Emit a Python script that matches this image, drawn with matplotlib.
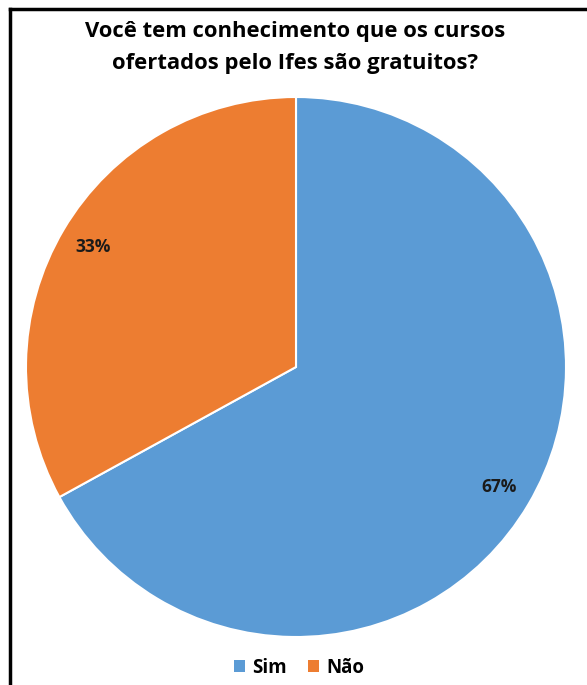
import matplotlib
matplotlib.use("Agg")
from matplotlib import pyplot as plt
from matplotlib.lines import Line2D
from matplotlib.patches import Patch

plt.rcParams['font.family'] = ['Open Sans', 'DejaVu Sans']

title = "Você tem conhecimento que os cursos\nofertados pelo Ifes são gratuitos?"
labels = ['Sim', 'Não']
values = [67, 33]
colors = ['#5B9BD5', '#ED7D31']

W, H = 587, 685
fig = plt.figure(figsize=(W / 100, H / 100), dpi=100)

# pie centre (296, 367) px, radius 270 px
cx, cy, r = 296, 367, 270
ax = fig.add_axes([(cx - r) / W, (H - cy - r) / H, 2 * r / W, 2 * r / H])
wedges, texts, autotexts = ax.pie(values, colors=colors, startangle=90, counterclock=False,
                                  autopct='%1.0f%%', pctdistance=0.875,
                                  wedgeprops=dict(edgecolor='white', linewidth=1.5),
                                  textprops=dict(fontsize=12.5, fontweight='bold', color='#1a1a1a'))
ax.set_xlim(-1, 1)
ax.set_ylim(-1, 1)
ax.set_aspect('auto')
ax.axis('off')

fig.text(295 / W, 1 - 47.5 / H, title, ha='center', va='center', fontsize=15.8,
         fontweight='bold', linespacing=1.65)

handles = [Patch(facecolor=c, edgecolor='none') for c in colors]
fig.legend(handles, labels, loc='center', bbox_to_anchor=(299 / W, 1 - 668 / H),
           ncol=2, frameon=False, prop=dict(weight='bold', size=13.5),
           handlelength=0.6, handleheight=0.6, handletextpad=0.4, columnspacing=1.1)

# screenshot border (top and left only)
fig.add_artist(Line2D([9.5 / W, 9.5 / W], [0, 1 - 8.5 / H], color='black', linewidth=2.5,
                      transform=fig.transFigure))
fig.add_artist(Line2D([9.5 / W, 1], [1 - 8.5 / H, 1 - 8.5 / H], color='black', linewidth=2.5,
                      transform=fig.transFigure))

fig.savefig('out.png', dpi=100)
